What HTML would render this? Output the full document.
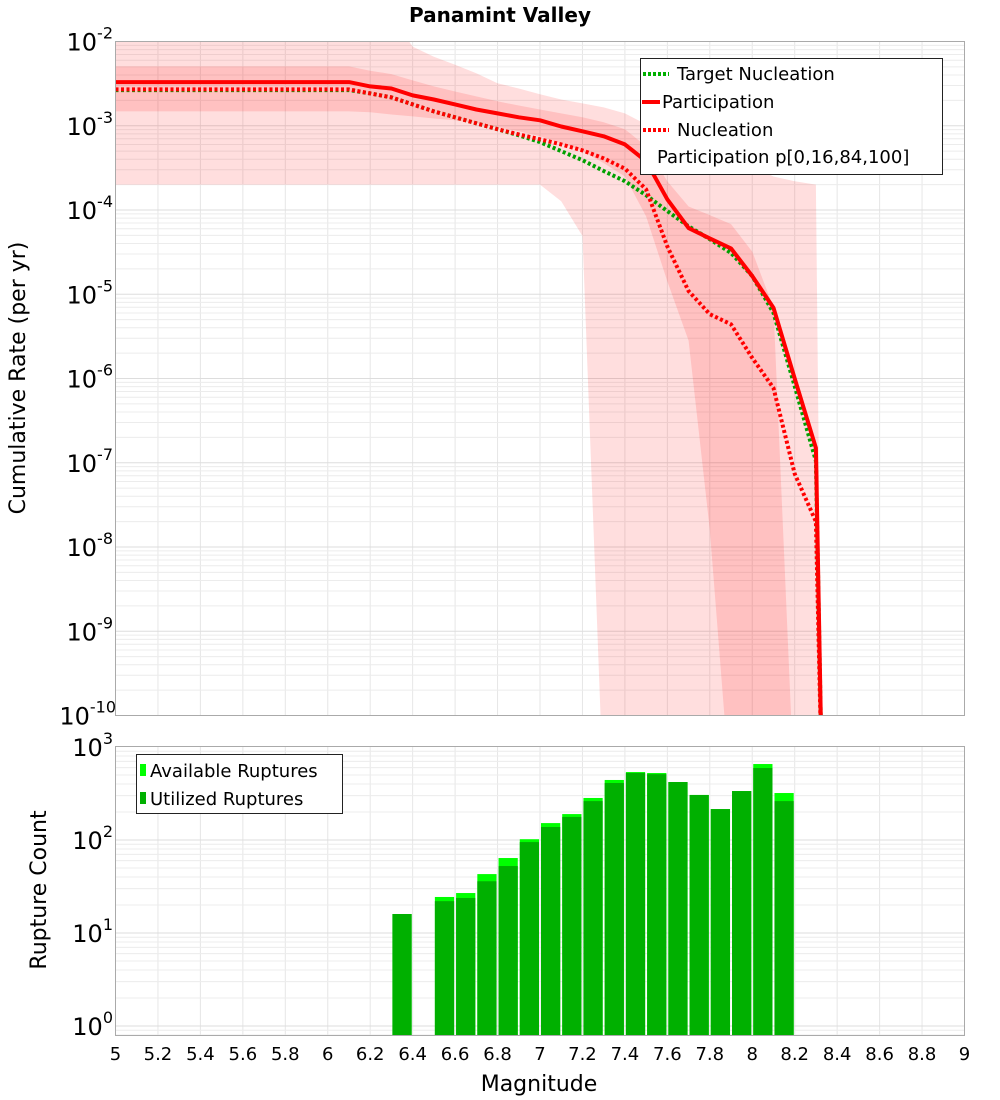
<!DOCTYPE html>
<html><head><meta charset="utf-8"><style>
html,body{margin:0;padding:0;background:#fff;}
svg{display:block;font-family:"DejaVu Sans","Liberation Sans",sans-serif;}
</style></head><body>
<svg id="chart" width="1000" height="1100" viewBox="0 0 1000 1100" xmlns="http://www.w3.org/2000/svg">
<defs>
<clipPath id="topclip"><rect x="115.5" y="41.5" width="849" height="674"/></clipPath>
<clipPath id="botclip"><rect x="115.5" y="746.5" width="849" height="289"/></clipPath>
</defs>
<rect x="0" y="0" width="1000" height="1100" fill="#fff"/>
<text x="500" y="22" text-anchor="middle" font-size="20" font-weight="bold">Panamint Valley</text>
<g id="topgrid"></g>
<g id="topbands" clip-path="url(#topclip)"></g>
<g id="toplines" clip-path="url(#topclip)"></g>
<rect x="115.5" y="41.5" width="849" height="674" fill="none" stroke="#aaa" stroke-width="1"/>
<g id="topyticks"></g>
<text transform="translate(25,378) rotate(-90)" text-anchor="middle" font-size="22">Cumulative Rate (per yr)</text>

<g id="botgrid"></g>
<g id="bars" clip-path="url(#botclip)"></g>
<rect x="115.5" y="746.5" width="849" height="289" fill="none" stroke="#aaa" stroke-width="1"/>
<g id="botyticks"></g>
<text transform="translate(46,890) rotate(-90)" text-anchor="middle" font-size="22">Rupture Count</text>
<g id="xticks"></g>
<text x="539" y="1091" text-anchor="middle" font-size="22">Magnitude</text>

<g>
<rect x="640.5" y="58.5" width="302" height="116" fill="#fff" stroke="#222" stroke-width="1"/>
<line x1="643" y1="74" x2="669" y2="74" stroke="#00b000" stroke-width="4" stroke-dasharray="3,2"/>
<text x="677" y="80" font-size="18">Target Nucleation</text>
<line x1="642" y1="102" x2="660" y2="102" stroke="#f00" stroke-width="4"/>
<text x="662" y="108" font-size="18">Participation</text>
<line x1="643" y1="130" x2="669" y2="130" stroke="#f00" stroke-width="4" stroke-dasharray="3,2"/>
<text x="677" y="136" font-size="18">Nucleation</text>
<text x="657" y="163" font-size="18">Participation p[0,16,84,100]</text>
</g>
<g>
<rect x="136.5" y="754.5" width="206" height="59" fill="#fff" stroke="#222" stroke-width="1"/>
<rect x="140" y="764" width="6" height="12" fill="#00ff00"/>
<text x="150" y="777" font-size="18">Available Ruptures</text>
<rect x="140" y="792" width="6" height="12" fill="#00b000"/>
<text x="150" y="805" font-size="18">Utilized Ruptures</text>
</g>
</svg>
<script>
const mags = [5.0,5.1,5.2,5.3,5.4,5.5,5.6,5.7,5.8,5.9,6.0,6.1,6.2,6.3,6.4,6.5,6.6,6.7,6.8,6.9,7.0,7.1,7.2,7.3,7.4,7.5,7.6,7.7,7.8,7.9,8.0,8.1,8.2,8.3,8.33];
const participation = [3.3e-3,3.3e-3,3.3e-3,3.3e-3,3.3e-3,3.3e-3,3.3e-3,3.3e-3,3.3e-3,3.3e-3,3.3e-3,3.3e-3,2.93e-3,2.77e-3,2.29e-3,2.05e-3,1.79e-3,1.56e-3,1.40e-3,1.26e-3,1.16e-3,9.8e-4,8.6e-4,7.5e-4,6.0e-4,3.8e-4,1.34e-4,6.1e-5,4.6e-5,3.5e-5,1.64e-5,6.9e-6,1.0e-6,1.5e-7,1e-11];
const targetNucleation = [2.65e-3,2.65e-3,2.65e-3,2.65e-3,2.65e-3,2.65e-3,2.65e-3,2.65e-3,2.65e-3,2.65e-3,2.65e-3,2.65e-3,2.42e-3,2.17e-3,1.79e-3,1.48e-3,1.26e-3,1.07e-3,9.1e-4,7.7e-4,6.4e-4,5.0e-4,3.9e-4,2.9e-4,2.2e-4,1.5e-4,9.7e-5,6.4e-5,4.5e-5,3.1e-5,1.64e-5,6.0e-6,8.1e-7,1.05e-7,1e-11];
const nucleation = [2.7e-3,2.7e-3,2.7e-3,2.7e-3,2.7e-3,2.7e-3,2.7e-3,2.7e-3,2.7e-3,2.7e-3,2.7e-3,2.7e-3,2.42e-3,2.17e-3,1.79e-3,1.48e-3,1.26e-3,1.07e-3,9.1e-4,7.9e-4,6.9e-4,6.0e-4,5.1e-4,4.1e-4,3.1e-4,1.76e-4,3.7e-5,1.09e-5,5.8e-6,4.4e-6,1.75e-6,7.7e-7,7.4e-8,2.0e-8,1e-11];
const p100 = [2e-2,2e-2,2e-2,2e-2,2e-2,2e-2,2e-2,2e-2,2e-2,2e-2,2e-2,2e-2,2e-2,2e-2,8.7e-3,6.6e-3,5.3e-3,4.2e-3,3.2e-3,2.77e-3,2.36e-3,2.05e-3,1.84e-3,1.65e-3,1.4e-3,1.04e-3,7.9e-4,6.4e-4,5.2e-4,4.3e-4,3.3e-4,2.5e-4,2.2e-4,2.0e-4,1e-11];
const p84 = [5.06e-3,5.06e-3,5.06e-3,5.06e-3,5.06e-3,5.06e-3,5.06e-3,5.06e-3,5.06e-3,5.06e-3,5.06e-3,5.06e-3,4.5e-3,4.1e-3,3.45e-3,2.93e-3,2.55e-3,2.23e-3,1.95e-3,1.74e-3,1.56e-3,1.4e-3,1.26e-3,1.1e-3,9.1e-4,5.7e-4,2.2e-4,1.1e-4,8.7e-5,6.8e-5,3.2e-5,6.9e-6,1e-11,1e-11,1e-11];
const p16 = [1.48e-3,1.48e-3,1.48e-3,1.48e-3,1.48e-3,1.48e-3,1.48e-3,1.48e-3,1.48e-3,1.48e-3,1.48e-3,1.48e-3,1.45e-3,1.36e-3,1.29e-3,1.22e-3,1.16e-3,1.07e-3,9.6e-4,8.6e-4,7.5e-4,6.2e-4,5.0e-4,3.6e-4,2.5e-4,8.4e-5,1.43e-5,2.8e-6,1.6e-8,1e-11,1e-11,1e-11,1e-11,1e-11,1e-11];
const p0 = [2.0e-4,2.0e-4,2.0e-4,2.0e-4,2.0e-4,2.0e-4,2.0e-4,2.0e-4,2.0e-4,2.0e-4,2.0e-4,2.0e-4,2.0e-4,2.0e-4,2.0e-4,2.0e-4,2.0e-4,2.0e-4,2.0e-4,2.0e-4,2.0e-4,1.27e-4,4.9e-5,1e-11,1e-11,1e-11,1e-11,1e-11,1e-11,1e-11,1e-11,1e-11,1e-11,1e-11,1e-11];

const binCenters = [6.35,6.55,6.65,6.75,6.85,6.95,7.05,7.15,7.25,7.35,7.45,7.55,7.65,7.75,7.85,7.95,8.05,8.15];
const available = [16,24.4,26.9,43,64,102,152,190,283,442,538,525,420,305,215,336,656,320];
const utilized = [16,22,23.8,36,52.5,95,138,177,262,410,525,510,420,305,215,336,594,262];

const xTicks = [5,5.2,5.4,5.6,5.8,6,6.2,6.4,6.6,6.8,7,7.2,7.4,7.6,7.8,8,8.2,8.4,8.6,8.8,9];
const topExps = [-2,-3,-4,-5,-6,-7,-8,-9,-10];
const botExps = [3,2,1,0];

const NS = "http://www.w3.org/2000/svg";
function X(m){ return 115.5 + (m-5)*212.25; }
function YT(v){ return 41.5 + (-2 - Math.log10(v))*84.25; }
function YB(v){ return 1026 - Math.log10(v)*93; }
function mk(tag, attrs, parent){
  const e = document.createElementNS(NS, tag);
  for (const k in attrs) e.setAttribute(k, attrs[k]);
  parent.appendChild(e);
  return e;
}
const topgrid = document.getElementById('topgrid');
const botgrid = document.getElementById('botgrid');
// vertical grid
for (const t of xTicks){
  if (t===5||t===9) continue;
  const l1 = mk('line',{x1:X(t),x2:X(t),y1:41.5,y2:715.5,stroke:'#e6e6e6','stroke-width':1},topgrid);
  
  
  const l2 = mk('line',{x1:X(t),x2:X(t),y1:746.5,y2:1035.5,stroke:'#e6e6e6','stroke-width':1},botgrid);
  
  
}
// horizontal log grid top
for (let e=-10; e<-2; e++){
  for (let k=1;k<10;k++){
    const y = YT(k*Math.pow(10,e));
    const l = mk('line',{x1:115.5,x2:964.5,y1:y,y2:y,stroke:k===1?'#dddddd':'#ececec','stroke-width':1},topgrid);
    
    
  }
}
for (let e=-1; e<3; e++){
  for (let k=1;k<10;k++){
    const y = YB(k*Math.pow(10,e));
    if (y>1035.5) continue;
    const l = mk('line',{x1:115.5,x2:964.5,y1:y,y2:y,stroke:k===1?'#dddddd':'#ececec','stroke-width':1},botgrid);
    
    
  }
}
// bands
function band(lo, hi, fill, name){
  let d = '';
  mags.forEach((m,i)=>{ d += (i?'L':'M') + X(m).toFixed(1) + ',' + Math.min(YT(hi[i]),900).toFixed(1); });
  for (let i=mags.length-1;i>=0;i--){ d += 'L' + X(mags[i]).toFixed(1) + ',' + Math.min(YT(lo[i]),900).toFixed(1); }
  d += 'Z';
  const p = mk('path',{d:d,fill:fill,stroke:'none'},document.getElementById('topbands'));
  
  
}
band(p0,p100,'rgba(255,0,0,0.13)','band-p0-p100');
band(p16,p84,'rgba(255,0,0,0.13)','band-p16-p84');
function line(vals, color, dash, name){
  const pts = mags.map((m,i)=>X(m).toFixed(1)+','+Math.min(YT(vals[i]),900).toFixed(1)).join(' ');
  const attrs = {points:pts,fill:'none',stroke:color,'stroke-width':4,'stroke-linejoin':'round'};
  if (dash) attrs['stroke-dasharray']=dash;
  const p = mk('polyline',attrs,document.getElementById('toplines'));
  
  
}
line(targetNucleation,'#00a000','3,2.5','target-nucleation-line');
line(nucleation,'#ff0000','3,2.5','nucleation-line');
line(participation,'#ff0000',null,'participation-line');
// bars
const bars = document.getElementById('bars');
binCenters.forEach((c,i)=>{
  const x0 = X(c-0.05)+1, x1 = X(c+0.05)-1;
  const ra = mk('rect',{x:x0,y:YB(available[i]),width:x1-x0,height:1036-YB(available[i]),fill:'#00ff00'},bars);
  
  
  const ru = mk('rect',{x:x0,y:YB(utilized[i]),width:x1-x0,height:1036-YB(utilized[i]),fill:'#00b000'},bars);
  
  
});
// ticks
function expLabel(parent, x, y, exp, name){
  const t = mk('text',{x:x,y:y,'text-anchor':'end','font-size':24},parent);
  
  
  const a = mk('tspan',{},t); a.textContent='10';
  const b = mk('tspan',{dy:-12,'font-size':16},t); b.textContent=String(exp);
}
const tyt = document.getElementById('topyticks');
topExps.forEach(e=>{
  const y = YT(Math.pow(10,e));
  expLabel(tyt, e<-9?116:113, y+9, e, 'top-y-tick-label');
});
const byt = document.getElementById('botyticks');
botExps.forEach(e=>{
  const y = YB(Math.pow(10,e));
  expLabel(byt, 113, y+9, e, 'bottom-y-tick-label');
});
const xt = document.getElementById('xticks');
xTicks.forEach(t=>{
  const tx = mk('text',{x:X(t),y:1060,'text-anchor':'middle','font-size':18},xt);
  
  
  tx.textContent = String(t);
});
</script>
</body></html>
